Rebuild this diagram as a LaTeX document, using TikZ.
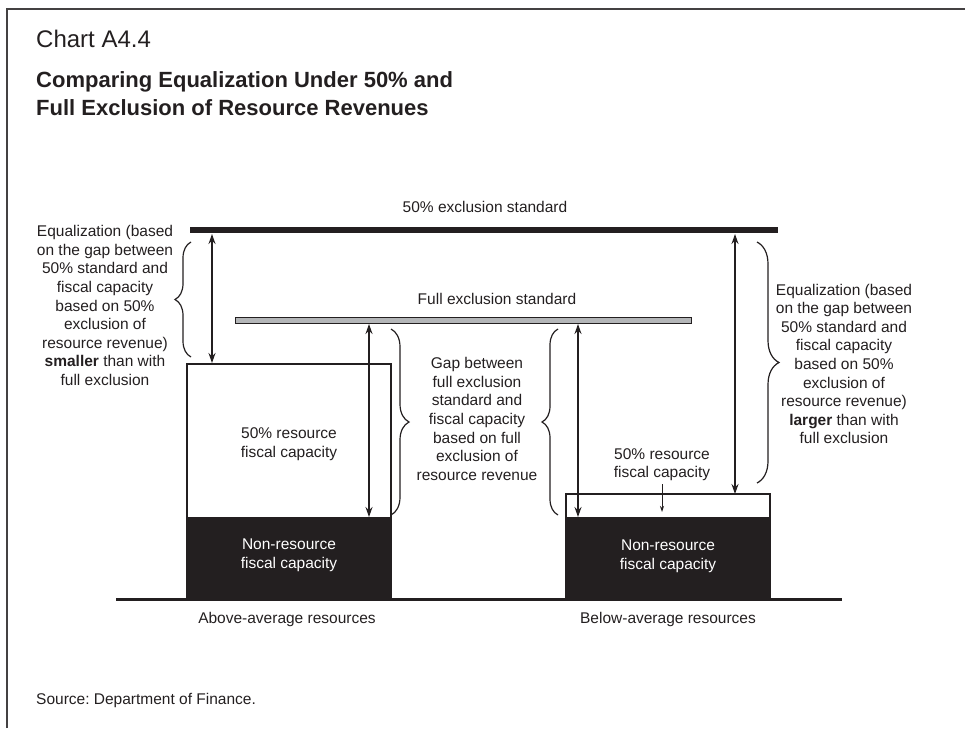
\documentclass[tikz,border=0pt]{standalone}
\usepackage{fontspec}
\setmainfont{Liberation Sans}
\usetikzlibrary{arrows.meta,decorations.pathreplacing}
\definecolor{ink}{HTML}{231F20}
\definecolor{barg}{HTML}{B4B6B8}
\frenchspacing
\begin{document}
\begin{tikzpicture}[x=1pt,y=-1pt,
  every node/.style={text=ink,inner sep=0pt},
  lbl/.style={font=\fontsize{15.5}{18.6}\selectfont,align=center},
  wlbl/.style={lbl,text=white},
  ttl/.style={anchor=base west,font=\fontsize{22}{28}\bfseries\selectfont},
  dbl/.style={{Stealth[length=10pt,width=7pt]}-{Stealth[length=10pt,width=7pt]},line width=1.4pt,draw=ink},
  sgl/.style={-{Stealth[length=6pt,width=4pt]},line width=0.9pt,draw=ink},
  brc/.style={decorate,decoration={brace,amplitude=#1},line width=1.2pt,draw=ink},
  ]
\path[use as bounding box] (0,0) rectangle (965,728);
% frame
\draw[line width=2pt,ink!85] (7,728) -- (7,9) -- (965,9);
% titles
\node[anchor=base west,font=\fontsize{24}{28}\selectfont] (chart) at (36,47) {Chart A4.4};
\node[ttl] (title1) at (36,87) {Comparing Equalization Under 50\% and};
\node[ttl] (title2) at (36,115) {Full Exclusion of Resource Revenues};
% standards
\fill[ink] (190,227) rectangle (778,233);
\draw[fill=barg,draw=ink,line width=1pt] (235,317) rectangle (691,323);
\node[lbl] (l50) at (485,207) {50\% exclusion standard};
\node[lbl] (lfull) at (497,299) {Full exclusion standard};
% boxes
\draw[ink,line width=1.3pt,fill=white] (187,364) rectangle (391,599);
\fill[ink] (187,517) rectangle (391,599);
\draw[ink,line width=1.3pt,fill=white] (566,494) rectangle (770,599);
\fill[ink] (566,517) rectangle (770,599);
% ground
\draw[ink,line width=3pt] (116,599) -- (842,599);
% coordinates for arrows
\coordinate (a1t) at (212,234); \coordinate (a1b) at (212,363);
\coordinate (a2t) at (369,324); \coordinate (a2b) at (369,517);
\coordinate (a3t) at (578,324); \coordinate (a3b) at (578,517);
\coordinate (a4t) at (735,234); \coordinate (a4b) at (735,494);
\coordinate (s1t) at (662,484); \coordinate (s1b) at (662,512);
\draw[dbl] (a1t) -- (a1b);
\draw[dbl] (a2t) -- (a2b);
\draw[dbl] (a3t) -- (a3b);
\draw[dbl] (a4t) -- (a4b);
\draw[sgl] (s1t) -- (s1b);
% braces
\coordinate (b1s) at (191,357); \coordinate (b1e) at (191,242);
\coordinate (b2s) at (391,329); \coordinate (b2e) at (391,515);
\coordinate (b3s) at (558,515); \coordinate (b3e) at (558,329);
\coordinate (b4s) at (757,242); \coordinate (b4e) at (757,483);
\draw[brc=16pt] (b1s) -- (b1e);
\draw[brc=18pt] (b2s) -- (b2e);
\draw[brc=16pt] (b3s) -- (b3e);
\draw[brc=22pt] (b4s) -- (b4e);
% texts
\node[lbl] (tleft) at (105,305.5) {Equalization (based\\on the gap between\\50\% standard and\\fiscal capacity\\based on 50\%\\exclusion of\\resource revenue)\\\textbf{smaller} than with\\full exclusion};
\node[lbl] (tmid) at (477,419) {Gap between\\full exclusion\\standard and\\fiscal capacity\\based on full\\exclusion of\\resource revenue};
\node[lbl] (tright) at (844,364) {Equalization (based\\on the gap between\\50\% standard and\\fiscal capacity\\based on 50\%\\exclusion of\\resource revenue)\\\textbf{larger} than with\\full exclusion};
\node[lbl] (rf1) at (289,444) {50\% resource\\fiscal capacity};
\node[lbl] (rf2) at (662,464.5) {50\% resource\\fiscal capacity};
\node[wlbl] (nr1) at (289,555) {Non-resource\\fiscal capacity};
\node[wlbl] (nr2) at (668,556) {Non-resource\\fiscal capacity};
\node[lbl] (ab) at (287,619) {Above-average resources};
\node[lbl] (be) at (668,619) {Below-average resources};
\node[lbl,anchor=west] (src) at (36,700) {Source: Department of Finance.};
\end{tikzpicture}
\end{document}
